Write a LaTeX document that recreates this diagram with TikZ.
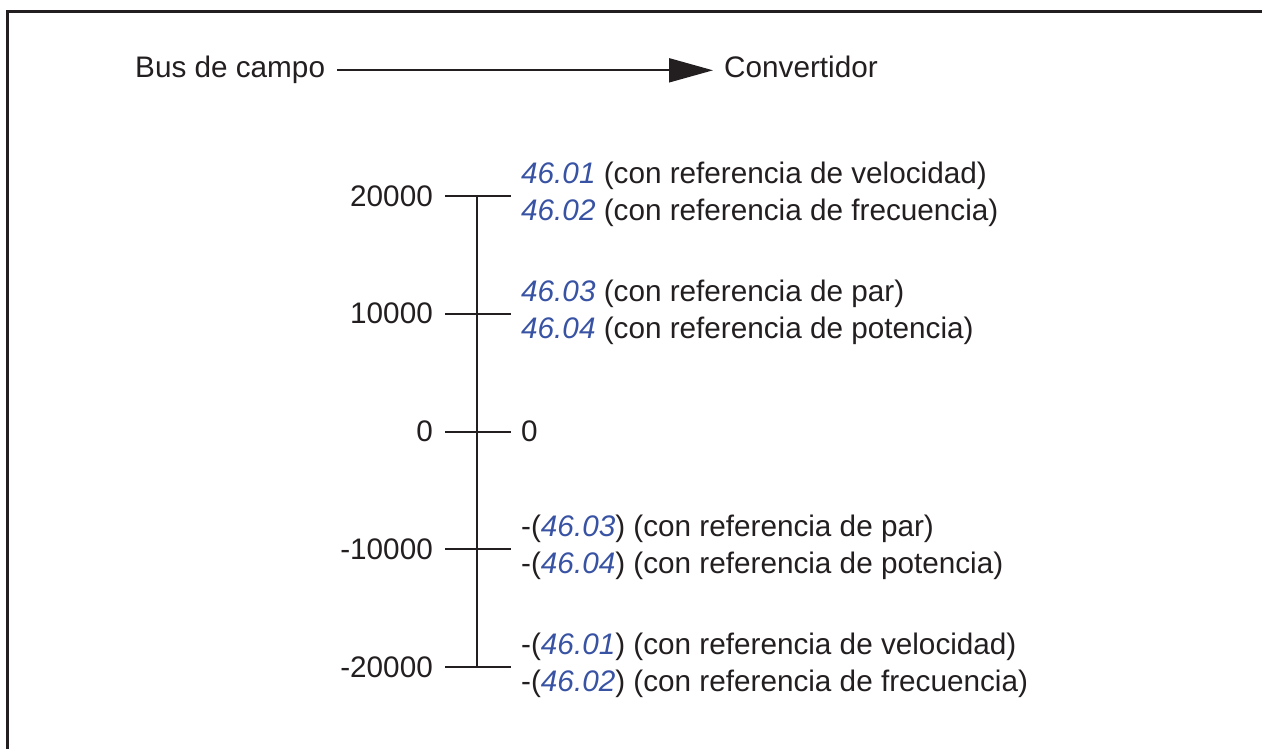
\documentclass[tikz,border=0pt]{standalone}
\usepackage{fontspec}
\setmainfont{Liberation Sans}
\usetikzlibrary{arrows.meta}
\definecolor{ink}{HTML}{231F20}
\definecolor{parblue}{HTML}{3953A4}
\newcommand{\parnum}[1]{\textcolor{parblue}{\itshape #1}}

\begin{document}
\begin{tikzpicture}[x=1pt,y=-1pt,font=\fontsize{29.7}{35}\selectfont,
  every node/.style={text=ink},
  lbl/.style={inner sep=0pt},
  axisline/.style={draw=ink,line width=2pt},
  arr/.style={draw=ink,line width=2pt,-{Triangle[length=44pt,width=24pt]}}]
  \useasboundingbox (0,0) rectangle (1262,749);
  % frame, cut at right and bottom
  \draw[ink,line width=3pt] (1262,12) -- (7,12) -- (7,749);
  % direction
  \node[lbl,inner xsep=12pt,anchor=base west] (bus) at (123,78) {Bus de campo};
  \node[lbl,inner xsep=11pt,anchor=base west] (conv) at (713,78) {Convertidor};
  \draw[arr] (bus.east) -- (bus.east -| conv.west);
  % scale
  \coordinate (top) at (477,196);
  \coordinate (bot) at (477,667);
  \draw[axisline] (top) -- (bot);
  \foreach \y/\v [count=\i] in {196/20000,313.75/10000,431.5/0,549.25/-10000,667/-20000}{
    \coordinate (l\i) at (445,\y);
    \coordinate (r\i) at (511,\y);
    \draw[axisline] (l\i) -- (r\i);
    \node[lbl,anchor=east] (v\i) at (433,\y) {\v};
  }
  % drive side
  \node[lbl,anchor=base west] (a1) at (521,196-12.5) {\parnum{46.01} (con referencia de velocidad)};
  \node[lbl,anchor=base west] (b1) at (521,196+24.5) {\parnum{46.02} (con referencia de frecuencia)};
  \node[lbl,anchor=base west] (a2) at (521,313.75-12.5) {\parnum{46.03} (con referencia de par)};
  \node[lbl,anchor=base west] (b2) at (521,313.75+24.5) {\parnum{46.04} (con referencia de potencia)};
  \node[lbl,anchor=west] (a3) at (521,431.5) {0};
  \node[lbl,anchor=base west] (a4) at (521,549.25-12.5) {-(\parnum{46.03}) (con referencia de par)};
  \node[lbl,anchor=base west] (b4) at (521,549.25+24.5) {-(\parnum{46.04}) (con referencia de potencia)};
  \node[lbl,anchor=base west] (a5) at (521,667-12.5) {-(\parnum{46.01}) (con referencia de velocidad)};
  \node[lbl,anchor=base west] (b5) at (521,667+24.5) {-(\parnum{46.02}) (con referencia de frecuencia)};
\end{tikzpicture}
\end{document}
